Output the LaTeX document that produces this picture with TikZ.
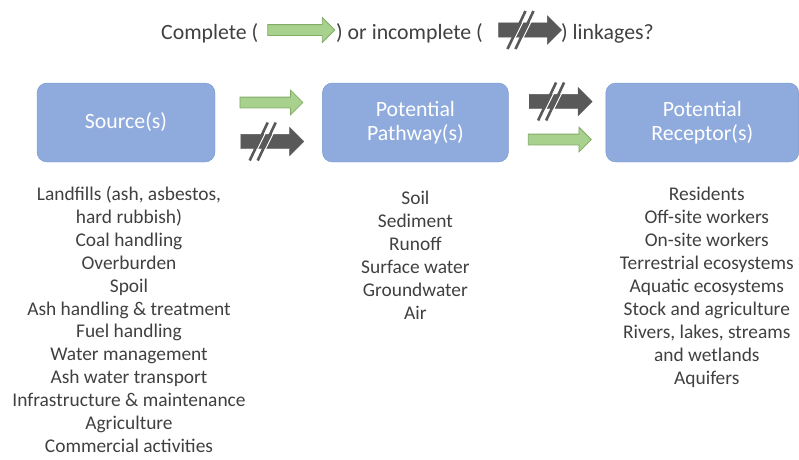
\documentclass[tikz,border=0pt]{standalone}
\usepackage{fontspec}
\setmainfont{Carlito}
\usetikzlibrary{positioning,calc,shapes.arrows}
\definecolor{boxblue}{RGB}{143,170,220}
\definecolor{boxedge}{RGB}{122,150,205}
\definecolor{linkgreen}{RGB}{169,209,142}
\definecolor{linkgreenedge}{RGB}{128,172,102}
\definecolor{linkgray}{RGB}{89,89,89}
\definecolor{textgray}{RGB}{64,64,64}
\tikzset{
    block/.style={%
        draw=boxedge, fill=boxblue, rounded corners=10pt,
        minimum width=#1,
        minimum height=79pt,
        text=white, align=center,
        font=\fontsize{21.8}{24.5}\selectfont
        },
    block/.default=180pt,
    linkok/.style={%
        single arrow, draw=linkgreenedge, fill=linkgreen, line width=0.8pt,
        inner sep=0pt, text height=5pt, text depth=5pt,
        minimum height=63pt, single arrow head extend=7pt
        },
    linkcut/.style={%
        single arrow, draw=linkgray, fill=linkgray,
        inner sep=0pt, text height=7pt, text depth=7pt,
        minimum height=63pt, single arrow head extend=7pt
        },
    itemlist/.style={%
        align=center, inner sep=0pt, text=textgray,
        font=\fontsize{19.4}{22.9}\selectfont
        },
    legend/.style={inner sep=0pt, text=textgray, font=\fontsize{21.8}{24}\selectfont},
    breaks/.pic={
        \foreach \dx in {-4,4}{
            \draw[white, line width=1pt] (\dx-4.5,14) -- (\dx+9.5,-14);
            \draw[linkgray, line width=2.6pt] (\dx-9,19) -- (\dx+9,-19);
        }
    }
}

\begin{document}
\begin{tikzpicture}[x=1pt, y=-1pt]

\useasboundingbox (0,0) rectangle (799,459);

% legend line
\node[legend, anchor=west] (leg-a) at (161,33) {Complete (};
\node[linkok, minimum height=67pt] (leg-ok) at (298.5,30) {};
\node[legend, anchor=west] (leg-b) at (336,33) {) or incomplete (};
\node[linkcut, minimum height=63pt] (leg-cut) at (526.5,30) {};
\pic at ([xshift=-6pt]leg-cut.center) {breaks};
\node[legend, anchor=west] (leg-c) at (561,33) {) linkages?};

% boxes
\node[block=178pt] (src) at (126,122.5) {Source(s)};

\node[block=186pt, right=107pt of src] (path) {Potential\\Pathway(s)};

\node[block=193pt, right=97pt of path] (rec) {Potential\\Receptor(s)};

% linkages
\node[linkok] (sp-ok) at ($(src.east)!.5!(path.west)+(0,-20)$) {};
\node[linkcut] (sp-cut) at ($(src.east)!.5!(path.west)+(0,19)$) {};
\pic at ([xshift=-6pt]sp-cut.center) {breaks};

\node[linkcut] (pr-cut) at ($(path.east)!.5!(rec.west)+(0,-21)$) {};
\pic at ([xshift=-6pt]pr-cut.center) {breaks};
\node[linkok] (pr-ok) at ($(path.east)!.5!(rec.west)+(0,17)$) {};

% lists
\node[itemlist, below=24pt of src, xshift=3pt] (src-list) {Landfills (ash, asbestos,\\hard rubbish)\\Coal handling\\Overburden\\Spoil\\Ash handling \& treatment\\Fuel handling\\Water management\\Ash water transport\\Infrastructure \& maintenance\\Agriculture\\Commercial activities};

\node[itemlist, below=29pt of path] (path-list) {Soil\\Sediment\\Runoff\\Surface water\\Groundwater\\Air};

\node[itemlist, below=25pt of rec, xshift=4.5pt] (rec-list) {Residents\\Off-site workers\\On-site workers\\Terrestrial ecosystems\\Aquatic ecosystems\\Stock and agriculture\\Rivers, lakes, streams\\and wetlands\\Aquifers};

\end{tikzpicture}
\end{document}
